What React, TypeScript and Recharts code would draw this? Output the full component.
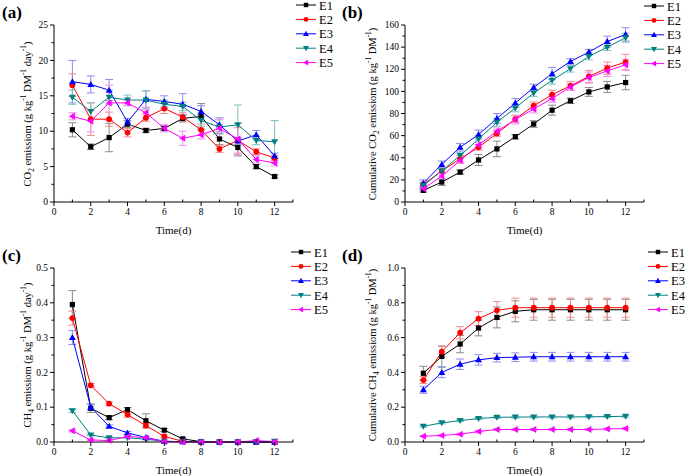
import React from 'react'
import { LineChart, Line, XAxis, YAxis, ErrorBar } from 'recharts'

const days = [1, 2, 3, 4, 5, 6, 7, 8, 9, 10, 11, 12]
const seriesNames = ['E1', 'E2', 'E3', 'E4', 'E5']
const xTicks = [0, 1, 2, 3, 4, 5, 6, 7, 8, 9, 10, 11, 12, 13]
const xLabels = [0, 2, 4, 6, 8, 10, 12]

// (a) CO2 emission rate, g/kg DM/day
const co2Rate = [
  [10.2, 7.8, 9.1, 11.0, 10.1, 10.4, 11.8, 12.1, 8.9, 7.7, 5.0, 3.6],
  [16.5, 11.7, 11.7, 9.8, 11.9, 13.2, 12.0, 10.2, 7.5, 8.7, 7.1, 6.2],
  [17.0, 16.6, 15.8, 11.3, 14.5, 14.2, 13.8, 12.8, 10.9, 8.6, 9.5, 6.5],
  [14.8, 12.8, 14.8, 14.4, 14.4, 13.8, 13.5, 11.5, 10.6, 10.9, 8.7, 8.5],
  [12.1, 11.4, 14.0, 14.0, 12.6, 10.4, 9.0, 9.5, 10.4, 8.9, 6.0, 5.5],
]
const co2RateSd = [
  [1.0, 0.4, 2.0, 0.5, 0.3, 0.3, 0.5, 1.8, 0.8, 1.2, 0.3, 0.2],
  [1.6, 2.3, 1.0, 0.6, 0.5, 0.7, 0.6, 0.8, 0.5, 1.8, 0.4, 0.4],
  [3.0, 1.2, 1.5, 0.5, 1.2, 0.8, 1.5, 0.8, 1.0, 0.5, 0.6, 0.4],
  [1.0, 1.2, 1.0, 0.7, 1.3, 0.6, 0.6, 0.8, 1.0, 2.8, 0.6, 3.0],
  [0.5, 1.5, 2.5, 0.4, 0.8, 0.5, 1.0, 0.6, 1.3, 2.2, 0.5, 0.4],
]

// (b) cumulative CO2
const co2Cum = [
  [10.5, 18, 27, 38, 48, 59, 70.5, 83, 91.5, 99.5, 104, 108],
  [16, 28, 39, 49.5, 62, 75, 87, 97, 105, 113.5, 121, 126.5],
  [17, 34, 49.5, 61, 75.5, 89.5, 103.5, 116, 127, 135.5, 145, 151.5],
  [15, 28, 42, 57, 72, 85, 98.5, 110, 120.5, 131.5, 140, 148.5],
  [12, 23.5, 37.5, 51.5, 64, 74.5, 84, 93.5, 104, 112.5, 118.5, 124],
]
const co2CumSd = [
  [1.5, 3, 2, 5, 7, 2, 3, 4.5, 2.5, 4, 5, 6.5],
  [2, 2, 3, 2.5, 3, 3, 3.5, 4, 4, 5.5, 5.5, 7],
  [3, 3, 3.5, 4, 4.5, 4, 3, 5.5, 2.5, 2.5, 5, 6],
  [2, 2, 2.5, 3, 3.5, 3.5, 3, 3.5, 3, 3, 3, 4],
  [1.5, 2.5, 2.5, 2.5, 3, 4, 3.5, 3.5, 3, 5, 5, 5],
]

// (c) CH4 emission rate
const ch4Rate = [
  [0.395, 0.097, 0.07, 0.093, 0.061, 0.034, 0.009, 0.001, 0, 0, 0, 0],
  [0.356, 0.163, 0.11, 0.079, 0.047, 0.016, 0.002, 0, 0, 0, 0, 0],
  [0.3, 0.1, 0.045, 0.026, 0.013, 0.002, 0.001, 0, 0, 0, 0, 0],
  [0.09, 0.02, 0.012, 0.012, 0.008, 0.002, 0.001, 0, 0, 0, 0.001, 0.002],
  [0.032, 0.006, 0.004, 0.016, 0.012, 0.001, 0, 0, 0, 0, 0.004, 0.001],
]
const ch4RateSd = [
  [0.04, 0.012, 0.006, 0.006, 0.02, 0.004, 0.003, 0.001, 0, 0, 0, 0],
  [0.02, 0.005, 0.005, 0.008, 0.006, 0.004, 0.002, 0, 0, 0, 0, 0],
  [0.02, 0.008, 0.004, 0.004, 0.003, 0.001, 0, 0, 0, 0, 0, 0],
  [0.005, 0.002, 0.002, 0.002, 0.002, 0.001, 0, 0, 0, 0, 0, 0],
  [0.003, 0.002, 0.002, 0.005, 0.003, 0.001, 0, 0, 0, 0, 0.002, 0],
]

// (d) cumulative CH4
const ch4Cum = [
  [0.395, 0.492, 0.563, 0.655, 0.716, 0.751, 0.76, 0.76, 0.76, 0.76, 0.76, 0.76],
  [0.356, 0.519, 0.628, 0.709, 0.757, 0.772, 0.772, 0.772, 0.772, 0.772, 0.772, 0.772],
  [0.3, 0.4, 0.447, 0.472, 0.485, 0.487, 0.49, 0.49, 0.49, 0.49, 0.49, 0.49],
  [0.09, 0.11, 0.123, 0.135, 0.142, 0.143, 0.144, 0.144, 0.144, 0.145, 0.146, 0.148],
  [0.033, 0.038, 0.045, 0.06, 0.072, 0.072, 0.072, 0.072, 0.072, 0.072, 0.075, 0.077],
]
const ch4CumSd = [
  [0.04, 0.06, 0.05, 0.045, 0.06, 0.06, 0.06, 0.06, 0.06, 0.06, 0.06, 0.06],
  [0.02, 0.03, 0.035, 0.04, 0.05, 0.055, 0.055, 0.055, 0.055, 0.055, 0.055, 0.055],
  [0.02, 0.03, 0.03, 0.03, 0.025, 0.025, 0.025, 0.025, 0.025, 0.025, 0.025, 0.025],
  [0.005, 0.006, 0.006, 0.006, 0.006, 0.006, 0.006, 0.006, 0.006, 0.006, 0.006, 0.006],
  [0.004, 0.004, 0.005, 0.006, 0.006, 0.006, 0.006, 0.006, 0.006, 0.006, 0.006, 0.006],
]

const yTicksA = [0, 2.5, 5, 7.5, 10, 12.5, 15, 17.5, 20, 22.5, 25]
const yLabelsA = [0, 5, 10, 15, 20, 25]
const yTicksB = [0, 10, 20, 30, 40, 50, 60, 70, 80, 90, 100, 110, 120, 130, 140, 150, 160]
const yLabelsB = [0, 20, 40, 60, 80, 100, 120, 140, 160]
const yTicksC = [0, 0.05, 0.1, 0.15, 0.2, 0.25, 0.3, 0.35, 0.4, 0.45, 0.5]
const yLabelsC = [0, 0.1, 0.2, 0.3, 0.4, 0.5]
const yTicksD = [0, 0.1, 0.2, 0.3, 0.4, 0.5, 0.6, 0.7, 0.8, 0.9, 1.0]
const yLabelsD = [0, 0.2, 0.4, 0.6, 0.8, 1.0]

const colors = ['#000000', '#ff0000', '#0000ff', '#008080', '#ff00ff']
const barColors = ['#8a8a8a', '#f28c8c', '#8c8cf0', '#7fbfbf', '#f08cf0']
const shapes = ['square', 'circle', 'up', 'down', 'left']
const FONT = '"Liberation Serif", "Times New Roman", Times, serif'

const Marker = ({ cx, cy, shape, color, r = 1 }: any) => {
  if (cx == null || cy == null) return null
  if (shape === 'square') return <rect x={cx - 2.6 * r} y={cy - 2.6 * r} width={5.2 * r} height={5.2 * r} fill={color} />
  if (shape === 'circle') return <circle cx={cx} cy={cy} r={2.9 * r} fill={color} />
  const a = 3.5 * r
  const b = 2.5 * r
  if (shape === 'up') return <polygon points={`${cx},${cy - a} ${cx - a},${cy + b} ${cx + a},${cy + b}`} fill={color} />
  if (shape === 'down') return <polygon points={`${cx},${cy + a} ${cx - a},${cy - b} ${cx + a},${cy - b}`} fill={color} />
  return <polygon points={`${cx - a},${cy} ${cx + b},${cy - a} ${cx + b},${cy + a}`} fill={color} />
}

const near = (list: number[], v: number) => list.some((t) => Math.abs(t - v) < 1e-6)

const XTick = ({ x, y, payload }: any) => {
  const major = near(xLabels, payload.value)
  return (
    <g>
      <line x1={x} x2={x} y1={y} y2={major ? y + 4 : y - 2.5} stroke="#000" strokeWidth={1} />
      {major && (
        <text x={x} y={y + 13} textAnchor="middle" style={{ fontSize: 9.5, fontFamily: FONT }} fill="#000">
          {payload.value}
        </text>
      )}
    </g>
  )
}

const makeYTick = (labels: number[], digits: number) => ({ x, y, payload }: any) => {
  const major = near(labels, payload.value)
  return (
    <g>
      <line x1={x} x2={major ? x - 4 : x - 2.5} y1={y} y2={y} stroke="#000" strokeWidth={1} />
      {major && (
        <text x={x - 6} y={y + 3.2} textAnchor="end" style={{ fontSize: 9.5, fontFamily: FONT }} fill="#000">
          {payload.value.toFixed(digits)}
        </text>
      )}
    </g>
  )
}

function Legend({ left, top }: { left: number; top: number }) {
  return (
    <svg width={45} height={75} style={{ position: 'absolute', left, top, fontFamily: FONT }}>
      {seriesNames.map((name, i) => {
        const cy = 5 + i * 14.4
        return (
          <g key={name}>
            <line x1={0} x2={20} y1={cy} y2={cy} stroke={colors[i]} strokeWidth={1} />
            <Marker cx={10} cy={cy} shape={shapes[i]} color={colors[i]} r={0.85} />
            <text x={23} y={cy + 4.5} style={{ fontSize: 12.5, fontFamily: FONT }} fill="#000">{name}</text>
          </g>
        )
      })}
    </svg>
  )
}

function Panel(props: any) {
  const { left, top, height, tag, values, sd, yMax, yTicks, yLabels, digits, yWidth, plotTop, yTitle, titleX, legendLeft, legendTop } = props
  const rows = days.map((d, i) => {
    const row: any = { day: d }
    seriesNames.forEach((n, s) => {
      row[n] = values[s][i]
      row[n + 'sd'] = sd[s][i]
    })
    return row
  })
  const plotBottom = height - 38
  const YTick = makeYTick(yLabels, digits)
  return (
    <div style={{ position: 'absolute', left, top, width: 340, height, fontFamily: FONT }}>
      <LineChart width={340} height={height} data={rows} margin={{ top: plotTop, right: 340 - (yWidth + 239), left: 0, bottom: 0 }}>
        <XAxis
          dataKey="day" type="number" domain={[0, 13]} ticks={xTicks} interval={0}
          tick={<XTick />} tickLine={false} tickSize={0} tickMargin={0} height={38}
          axisLine={{ stroke: '#000' }}
        />
        <YAxis
          type="number" domain={[0, yMax]} ticks={yTicks} interval={0}
          tick={<YTick />} tickLine={false} tickSize={0} tickMargin={0} width={yWidth}
          axisLine={{ stroke: '#000' }}
        />
        {seriesNames.map((n, s) => (
          <Line
            key={n} dataKey={n} stroke={colors[s]} strokeWidth={1} isAnimationActive={false}
            dot={(p: any) => <Marker key={p.index} cx={p.cx} cy={p.cy} shape={shapes[s]} color={colors[s]} />}
            activeDot={false}
          >
            <ErrorBar dataKey={n + 'sd'} width={4} stroke={barColors[s]} strokeWidth={1} direction="y" isAnimationActive={false} />
          </Line>
        ))}
      </LineChart>
      <div style={{ position: 'absolute', left: 2, top: plotTop - 21, fontSize: 17, fontWeight: 'bold', lineHeight: 1 }}>{tag}</div>
      <div style={{
        position: 'absolute', left: titleX, top: (plotTop + plotBottom) / 2,
        transform: 'translate(-50%, -50%) rotate(-90deg)', whiteSpace: 'nowrap', fontSize: 10.5, lineHeight: 1,
      }}>{yTitle}</div>
      <div style={{
        position: 'absolute', left: yWidth + 119.5, top: plotBottom + 28,
        transform: 'translate(-50%, -50%)', whiteSpace: 'nowrap', fontSize: 11, lineHeight: 1,
      }}>Time(d)</div>
      <Legend left={legendLeft} top={legendTop} />
    </div>
  )
}

const sup = (t: string) => <sup style={{ fontSize: '0.7em' }}>{t}</sup>
const sub = (t: string) => <sub style={{ fontSize: '0.7em' }}>{t}</sub>

export default function App() {
  return (
    <div style={{ position: 'absolute', left: 0, top: 0, width: 685, height: 476, background: '#fff' }}>
      <Panel
        left={0} top={0} height={240} tag="(a)" values={co2Rate} sd={co2RateSd}
        yMax={25} yTicks={yTicksA} yLabels={yLabelsA} digits={0} yWidth={54} plotTop={25}
        titleX={27} legendLeft={296} legendTop={0}
        yTitle={<span>CO{sub('2')} emissiom (g kg{sup('-1')} DM{sup('-1')} day{sup('-1')})</span>}
      />
      <Panel
        left={340} top={0} height={240} tag="(b)" values={co2Cum} sd={co2CumSd}
        yMax={160} yTicks={yTicksB} yLabels={yLabelsB} digits={0} yWidth={65} plotTop={25}
        titleX={32} legendLeft={304} legendTop={1}
        yTitle={<span>Cumulative CO{sub('2')} emissiom (g kg{sup('-1')} DM{sup('-1')})</span>}
      />
      <Panel
        left={0} top={240} height={240} tag="(c)" values={ch4Rate} sd={ch4RateSd}
        yMax={0.5} yTicks={yTicksC} yLabels={yLabelsC} digits={1} yWidth={54} plotTop={28}
        titleX={27} legendLeft={291} legendTop={7}
        yTitle={<span>CH{sub('4')} emissiom (g kg{sup('-1')} DM{sup('-1')} day{sup('-1')})</span>}
      />
      <Panel
        left={340} top={240} height={240} tag="(d)" values={ch4Cum} sd={ch4CumSd}
        yMax={1.0} yTicks={yTicksD} yLabels={yLabelsD} digits={1} yWidth={65} plotTop={28}
        titleX={32} legendLeft={308} legendTop={7}
        yTitle={<span>Cumulative CH{sub('4')} emissiom (g kg{sup('-1')} DM{sup('-1')})</span>}
      />
    </div>
  )
}
